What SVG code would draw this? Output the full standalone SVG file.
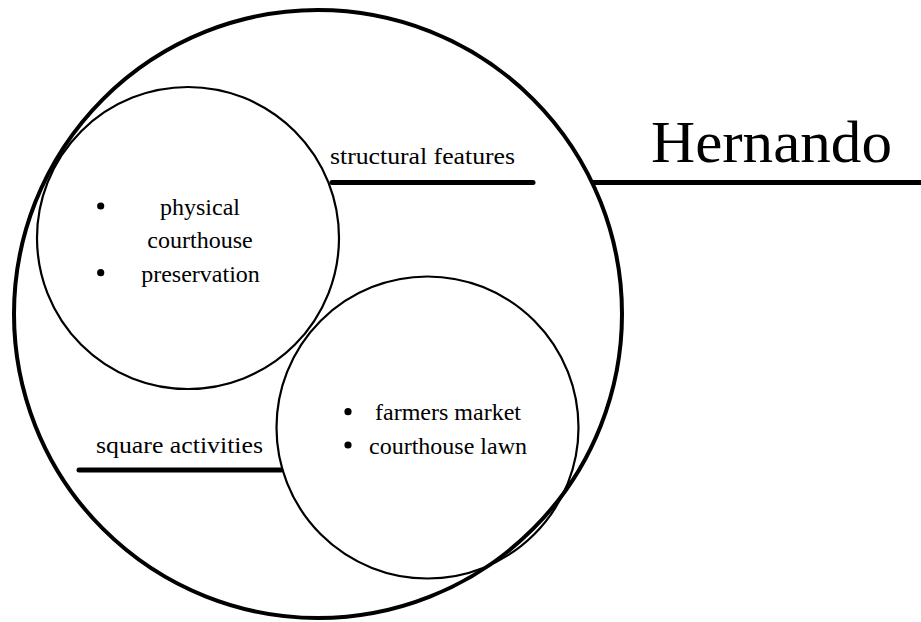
<svg xmlns="http://www.w3.org/2000/svg" width="921" height="622" viewBox="0 0 921 622">
<style>
.t{font-family:"Liberation Serif","Times New Roman",serif;fill:#000}
.c{fill:none;stroke:#000;stroke-width:2.2}
.big{fill:none;stroke:#000;stroke-width:4}
.ln{stroke:#000;stroke-width:5;stroke-linecap:round;fill:none}
.b{fill:#000}
</style>
<rect width="921" height="622" fill="#fff"/>
<g id="hernando">
<circle class="big" cx="318" cy="314" r="304"/>
<text class="t" x="651" y="161.5" font-size="60" textLength="241" lengthAdjust="spacingAndGlyphs">Hernando</text>
</g>
<g id="structural">
<circle class="c" cx="188" cy="238" r="151"/>
<circle class="b" cx="100.7" cy="206" r="3.6"/>
<circle class="b" cx="100.7" cy="272.7" r="3.6"/>
<text class="t" font-size="24" text-anchor="middle" x="200" y="215">physical</text>
<text class="t" font-size="24" text-anchor="middle" x="200" y="248">courthouse</text>
<text class="t" font-size="24" text-anchor="middle" x="200.5" y="281.5">preservation</text>
</g>
<g id="activities">
<circle class="c" cx="427.5" cy="427.5" r="151"/>
<circle class="b" cx="348" cy="411.7" r="3.6"/>
<circle class="b" cx="348" cy="445" r="3.6"/>
<text class="t" font-size="24" text-anchor="middle" x="448" y="419.5">farmers market</text>
<text class="t" font-size="24" text-anchor="middle" x="448" y="453.5">courthouse lawn</text>
</g>
<g id="connectors">
<line class="ln" x1="593" y1="182.5" x2="923" y2="182.5" style="stroke-linecap:butt"/>
<line class="ln" x1="332" y1="182.5" x2="533" y2="182.5"/>
<line class="ln" x1="79" y1="470" x2="281" y2="470"/>
</g>
<g id="labels">
<text class="t" font-size="24" x="330" y="164" textLength="185" lengthAdjust="spacingAndGlyphs">structural features</text>
<text class="t" font-size="24" x="96" y="453.3" textLength="167" lengthAdjust="spacingAndGlyphs">square activities</text>
</g>
</svg>
